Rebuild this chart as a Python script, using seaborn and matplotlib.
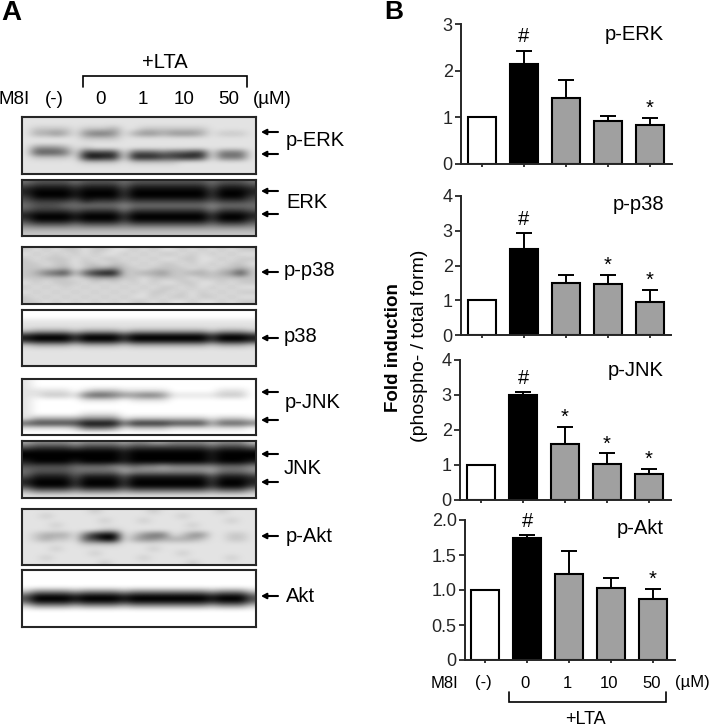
import numpy as np
import seaborn as sns
import matplotlib
matplotlib.use("Agg")
import matplotlib.pyplot as plt

W, H = 709, 726

LANES = ["(-)", "0", "1", "10", "50"]
BAR_COLORS = ["white", "black", "#a0a0a0", "#a0a0a0", "#a0a0a0"]

# panel B, fold induction
ERK_MEAN = [1.0, 2.14, 1.42, 0.92, 0.84]
ERK_ERR = [0.0, 0.29, 0.38, 0.11, 0.15]
ERK_MARKS = ["", "#", "", "", "*"]
P38_MEAN = [1.0, 2.47, 1.49, 1.46, 0.95]
P38_ERR = [0.0, 0.46, 0.24, 0.26, 0.35]
P38_MARKS = ["", "#", "", "*", "*"]
JNK_MEAN = [1.0, 3.0, 1.6, 1.04, 0.73]
JNK_ERR = [0.0, 0.08, 0.49, 0.29, 0.17]
JNK_MARKS = ["", "#", "*", "*", "*"]
AKT_MEAN = [1.0, 1.74, 1.23, 1.03, 0.87]
AKT_ERR = [0.0, 0.04, 0.33, 0.14, 0.15]
AKT_MARKS = ["", "#", "", "", "*"]

# panel A, grey levels of each blot read by eye (0 black .. 9 white)
# groups: edge | lane 1 | gap | lane 2 | gap | lane 3 | lane 4 | gap | lane 5 | edge
BLOT_PERK = [
    "8 8888 8 8888 8 8888 8888 8 888 8",
    "8 8888 8 8888 8 8888 8888 8 888 8",
    "8 7777 8 7776 8 8777 7777 8 888 8",
    "8 6656 8 5445 8 6556 5556 8 777 8",
    "8 8888 8 7777 8 8888 8888 8 888 8",
    "8 8888 8 8888 8 8888 8888 8 888 8",
    "8 5556 8 7888 8 8888 8888 8 888 8",
    "8 3334 8 2222 8 3334 3322 8 444 8",
    "8 7777 8 1011 8 1112 2112 8 444 8",
    "8 8888 8 7777 8 7777 7888 8 888 8",
    "8 8888 8 8888 8 8888 8888 8 888 8",
    "8 8888 8 8888 8 8888 8888 8 888 8",
]
BLOT_ERK = [
    "4 3333 4 3333 4 3333 3333 4 333 4",
    "2 1111 2 1111 3 1111 1111 3 111 2",
    "1 0000 1 0000 2 0000 0000 2 000 1",
    "2 0000 1 0000 2 0000 0000 2 000 2",
    "3 2222 3 1222 3 2222 2222 3 222 3",
    "4 3334 4 4444 5 4444 4444 5 444 4",
    "3 2222 3 2222 4 2222 2222 4 222 3",
    "1 0000 1 0000 2 0000 0000 2 000 1",
    "2 0000 1 0000 2 0000 0000 2 000 2",
    "4 3333 4 3333 4 3333 3333 4 333 4",
    "6 6666 6 6666 6 6666 6666 6 666 6",
    "7 7777 7 7777 7 7777 7777 7 777 7",
]
BLOT_PP38 = [
    "7 8787 7 8778 8 7878 8787 8 787 7",
    "8 7878 7 8788 7 8787 7878 7 878 8",
    "7 8777 8 7877 8 7878 8778 8 787 7",
    "7 7877 8 7787 7 8787 7878 7 877 8",
    "7 7776 8 7665 7 7877 7787 8 776 7",
    "7 6432 7 3100 7 7665 7766 7 652 7",
    "7 7777 8 7666 7 7877 7787 7 777 7",
    "8 7877 7 8787 8 7878 8778 8 787 7",
    "7 8787 8 7878 7 8787 7878 7 878 8",
    "8 7878 7 8787 8 7877 8787 8 787 7",
    "7 8787 8 7878 7 8878 7787 7 878 8",
    "7 7878 7 8787 8 7787 8878 8 787 7",
]
BLOT_P38 = [
    "9 9999 9 9999 9 9999 9999 9 999 9",
    "9 9999 9 9999 9 9999 9999 9 999 9",
    "8 8888 8 8888 8 8888 8888 8 888 8",
    "8 8888 8 8888 8 8888 8888 8 888 8",
    "7 6666 7 6666 7 6666 6666 7 666 7",
    "1 0000 2 0000 2 0000 0000 2 000 1",
    "1 0000 2 0000 2 0000 0000 2 000 1",
    "7 6666 7 6666 7 6666 6666 7 666 7",
    "8 8888 8 8888 8 8888 8888 8 888 8",
    "8 8888 8 8888 8 8888 8888 8 888 8",
    "8 8888 8 8888 8 8888 8888 8 888 8",
    "8 8888 8 8888 8 8888 8888 8 888 8",
]
BLOT_PJNK = [
    "8 9999 9 9999 9 9999 9999 9 999 9",
    "8 9999 9 9999 9 9999 9999 9 999 9",
    "8 8888 9 8777 8 8888 9999 9 888 9",
    "8 8777 8 4334 5 5445 8888 8 777 9",
    "8 9999 9 8888 9 8888 9999 9 999 9",
    "8 9999 9 9999 9 9999 9999 9 999 9",
    "8 9999 9 9999 9 9999 9999 9 999 9",
    "8 9999 9 8888 9 9999 9999 9 999 9",
    "8 6666 6 5555 8 7777 7777 8 777 8",
    "3 2222 2 0000 4 1111 2222 6 333 4",
    "8 8888 7 4445 8 7777 8888 8 888 9",
    "9 9999 9 9999 9 9999 9999 9 999 9",
]
BLOT_JNK = [
    "6 5555 6 5555 6 5566 5555 6 555 7",
    "3 2222 3 2222 3 2222 2222 3 222 3",
    "0 0000 0 0000 1 0000 0000 1 000 0",
    "0 0000 0 0000 1 0000 0000 1 000 0",
    "1 0000 1 0000 1 0000 0000 1 000 1",
    "3 3333 4 4445 5 4556 5555 5 444 5",
    "4 3333 4 4444 6 5555 5555 6 444 5",
    "3 1111 3 1111 3 1111 1111 3 111 2",
    "1 0000 2 0000 2 0000 0000 2 000 1",
    "2 0000 2 0000 2 0000 0000 2 000 2",
    "6 4444 5 4444 5 4444 4444 5 444 6",
    "8 8888 8 8888 8 8888 8888 8 888 8",
]
BLOT_PAKT = [
    "8 8888 8 8788 8 8878 8888 8 788 8",
    "8 8788 8 8888 8 8888 8788 8 888 8",
    "8 8888 8 8878 8 8788 8888 8 878 8",
    "8 8878 8 8888 8 8888 8878 8 888 8",
    "8 8888 8 8877 8 8888 8888 8 888 8",
    "8 7666 8 4100 8 7544 8755 8 877 8",
    "8 7677 8 3200 8 6556 6667 8 877 8",
    "8 8888 8 7777 8 8888 8888 8 888 8",
    "8 8878 8 8888 8 8878 8888 8 888 8",
    "8 8888 8 8788 8 8888 8788 8 888 8",
    "8 8788 8 8888 8 8788 8888 8 878 8",
    "8 8888 8 8878 8 8888 8878 8 888 8",
]
BLOT_AKT = [
    "9 9999 9 9999 9 9999 9999 9 999 9",
    "9 9999 9 9999 9 9999 9999 9 999 9",
    "9 9999 9 9999 9 9999 9999 9 999 9",
    "9 9999 9 9999 9 9999 9999 9 999 9",
    "7 5555 6 5555 6 5555 5555 6 555 7",
    "3 0000 1 0000 1 0000 0000 1 000 3",
    "3 0000 1 0000 1 0000 0000 1 000 3",
    "7 5555 6 5555 6 5555 5555 6 555 7",
    "9 9999 9 9999 9 9999 9999 9 999 9",
    "9 9999 9 9999 9 9999 9999 9 999 9",
    "9 9999 9 9999 9 9999 9999 9 999 9",
    "9 9999 9 9999 9 9999 9999 9 999 9",
]

sns.set_style("ticks")
plt.rcParams["font.family"] = ["Liberation Sans", "DejaVu Sans"]
plt.rcParams["axes.linewidth"] = 1.4

fig = plt.figure(figsize=(W / 100, H / 100), dpi=100, facecolor="white")


def px_axes(x0, y0, x1, y1):
    return fig.add_axes([x0 / W, 1 - y1 / H, (x1 - x0) / W, (y1 - y0) / H])


def draw_blot(rows, box):
    ax = px_axes(*box)
    grid = np.array([[int(c) for c in r.replace(" ", "")] for r in rows], dtype=float)
    ax.imshow(grid, cmap="gray", vmin=0, vmax=9, aspect="auto", interpolation="bicubic")
    ax.set_xticks([])
    ax.set_yticks([])
    for spine in ax.spines.values():
        spine.set_linewidth(1.5)


def draw_bars(mean, err, marks, ymax, yticks, ylabels, box, x0_px):
    ax = px_axes(*box)
    sns.barplot(x=LANES, y=mean, hue=LANES, palette=BAR_COLORS, legend=False, order=LANES,
                width=0.67, edgecolor="black", linewidth=1.5, errorbar=None, ax=ax)
    ax.errorbar(range(1, 5), mean[1:], yerr=[np.zeros(4), err[1:]], fmt="none", ecolor="black",
                elinewidth=1.4, capsize=5.8, capthick=1.4, zorder=1)
    for i, mark in enumerate(marks):
        if mark:
            off = 3 if mark == "#" else 0
            ax.annotate(mark, (i, mean[i] + err[i]), xytext=(0, off), textcoords="offset points",
                        ha="center", va="bottom", fontsize=14.5, color="black")
    # lane spacing is 42 px in every panel
    ax.set_xlim(-(x0_px - box[0]) / 42, (box[2] - x0_px) / 42)
    ax.set_ylim(0, ymax)
    ax.set_yticks(yticks, ylabels)
    ax.tick_params(axis="y", labelsize=13, length=4, width=1.3, pad=2)
    ax.tick_params(axis="x", labelbottom=False, length=2, width=1.3)
    ax.set_xlabel("")
    ax.set_ylabel("")
    ax.patch.set_alpha(0)
    sns.despine(ax=ax)


draw_blot(BLOT_PERK, (22, 117, 256, 174))
draw_blot(BLOT_ERK, (22, 180, 256, 236))
draw_blot(BLOT_PP38, (22, 247, 256, 304))
draw_blot(BLOT_P38, (22, 310, 256, 366))
draw_blot(BLOT_PJNK, (22, 379, 256, 435))
draw_blot(BLOT_JNK, (22, 441, 256, 498))
draw_blot(BLOT_PAKT, (22, 509, 256, 565))
draw_blot(BLOT_AKT, (22, 570, 256, 627))

draw_bars(ERK_MEAN, ERK_ERR, ERK_MARKS, 3, [0, 1, 2, 3], ["0", "1", "2", "3"], (461, 24, 672, 164), 482)
draw_bars(P38_MEAN, P38_ERR, P38_MARKS, 4, [0, 1, 2, 3, 4], ["0", "1", "2", "3", "4"], (461, 196, 671, 335), 482)
draw_bars(JNK_MEAN, JNK_ERR, JNK_MARKS, 4, [0, 1, 2, 3, 4], ["0", "1", "2", "3", "4"], (460, 360, 671, 500), 481)
draw_bars(AKT_MEAN, AKT_ERR, AKT_MARKS, 2, [0, 0.5, 1, 1.5, 2], ["0", "0.5", "1.0", "1.5", "2.0"], (465, 520, 675, 660), 485)

# text, arrows and brackets go on a pixel overlay
over = fig.add_axes([0, 0, 1, 1])
over.set_xlim(0, W)
over.set_ylim(H, 0)
over.axis("off")
over.patch.set_alpha(0)


def label(x, y, s, ha="left", size=14.5, **kw):
    over.text(x, y, s, ha=ha, va="center", fontsize=size, color="black", **kw)


def arrow(y, x0=278, x1=261):
    over.annotate("", xy=(x1, y), xytext=(x0, y),
                  arrowprops=dict(arrowstyle="-|>,head_length=0.3,head_width=0.16", lw=1.5, color="black",
                                  shrinkA=0, shrinkB=0))


def bracket(x0, x1, top, bottom):
    over.plot([x0, x0, x1, x1], [bottom, top, top, bottom], color="black", lw=1.2, solid_joinstyle="miter")


label(1, 13, "A", size=20, fontweight="bold")
label(384, 12, "B", size=19, fontweight="bold")

label(165, 62, "+LTA", ha="center")
bracket(83, 247, 76, 87)
label(-1, 100, "M8I", size=13.5)
for x, s in zip([54, 100, 143, 184, 229, 272], LANES + ["(µM)"]):
    label(x, 100, s, ha="center", size=13.5)

for y in [132, 154, 191, 214, 272, 338, 392, 420, 454, 482, 536, 596]:
    arrow(y)
for x, y, s in [(286, 140, "p-ERK"), (286, 202, "ERK"), (284, 270, "p-p38"), (284, 336, "p38"),
                (285, 403, "p-JNK"), (284, 468, "JNK"), (286, 536, "p-Akt"), (286, 596, "Akt")]:
    label(x, y, s)

for y, s in [(35, "p-ERK"), (204, "p-p38"), (370, "p-JNK"), (529, "p-Akt")]:
    label(664, y, s, ha="right")

label(393, 348, "Fold induction", ha="center", rotation=90, fontweight="bold", size=13.5)
label(420, 346, "(phospho- / total form)", ha="center", rotation=90, size=14)

label(431, 683, "M8I", size=12)
for x, s in zip([483, 525, 567, 609, 652, 692], LANES + ["(µM)"]):
    label(x, 683, s, ha="center", size=12)
bracket(509, 666, 702, 692)
label(585, 719, "+LTA", ha="center", size=13)

fig.savefig("out.png", dpi=100)
